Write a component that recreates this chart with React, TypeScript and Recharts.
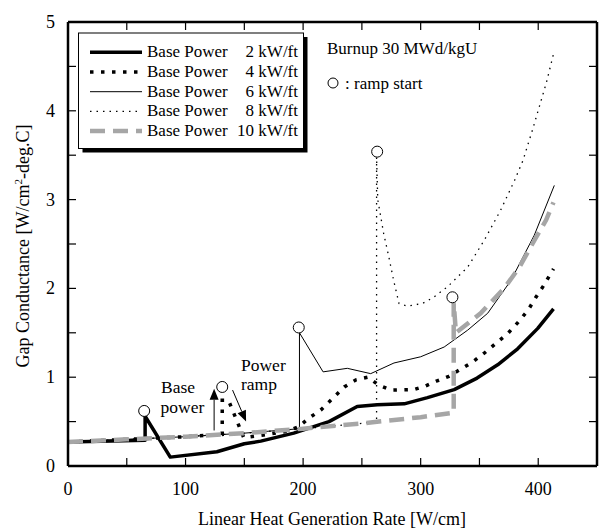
import { ComposedChart, Line, Scatter, XAxis, YAxis, ReferenceLine } from "recharts"

type Pt = { x: number; y: number }

const FONT = '"Liberation Serif", "Times New Roman", serif'

const xTicks = [0, 50, 100, 150, 200, 250, 300, 350, 400, 450]
const yTicks = [0, 0.5, 1, 1.5, 2, 2.5, 3, 3.5, 4, 4.5, 5]

// Base Power 2 kW/ft
const power2: Pt[] = [
  { x: 0, y: 0.27 }, { x: 65.6, y: 0.29 }, { x: 65.6, y: 0.56 }, { x: 87, y: 0.1 },
  { x: 126.7, y: 0.16 }, { x: 150, y: 0.25 }, { x: 164, y: 0.28 }, { x: 192, y: 0.37 },
  { x: 222, y: 0.5 }, { x: 246, y: 0.67 }, { x: 263, y: 0.69 }, { x: 286, y: 0.7 },
  { x: 305.8, y: 0.77 }, { x: 328.5, y: 0.86 }, { x: 348, y: 0.99 }, { x: 365.5, y: 1.14 },
  { x: 382.5, y: 1.32 }, { x: 399.6, y: 1.55 }, { x: 413, y: 1.77 },
]

// Base Power 4 kW/ft
const power4: Pt[] = [
  { x: 0, y: 0.27 }, { x: 50, y: 0.3 }, { x: 100, y: 0.33 }, { x: 131.2, y: 0.355 },
  { x: 131.2, y: 0.74 }, { x: 136.5, y: 0.74 }, { x: 149.5, y: 0.32 }, { x: 166.5, y: 0.35 },
  { x: 186, y: 0.39 }, { x: 196, y: 0.44 }, { x: 205, y: 0.54 }, { x: 215, y: 0.63 },
  { x: 225, y: 0.76 }, { x: 235, y: 0.89 }, { x: 245, y: 0.97 }, { x: 255, y: 1.0 },
  { x: 264.5, y: 0.91 }, { x: 274.5, y: 0.855 }, { x: 294, y: 0.86 }, { x: 304, y: 0.9 },
  { x: 314, y: 0.96 }, { x: 324, y: 1.01 }, { x: 334, y: 1.09 }, { x: 344, y: 1.17 },
  { x: 354, y: 1.27 }, { x: 364, y: 1.38 }, { x: 374, y: 1.49 }, { x: 383, y: 1.62 },
  { x: 391.6, y: 1.76 }, { x: 398, y: 1.9 }, { x: 404, y: 2.02 }, { x: 413, y: 2.22 },
]

// Base Power 6 kW/ft
const power6: Pt[] = [
  { x: 0, y: 0.27 }, { x: 50, y: 0.3 }, { x: 100, y: 0.33 }, { x: 150, y: 0.37 },
  { x: 196.9, y: 0.42 }, { x: 196.9, y: 1.5 }, { x: 217, y: 1.06 }, { x: 237.6, y: 1.1 },
  { x: 257.5, y: 1.04 }, { x: 277.3, y: 1.16 }, { x: 300, y: 1.23 }, { x: 320, y: 1.34 },
  { x: 340, y: 1.53 }, { x: 357, y: 1.72 }, { x: 376.8, y: 2.09 }, { x: 396.7, y: 2.6 },
  { x: 413.7, y: 3.16 },
]

// Base Power 8 kW/ft
const power8: Pt[] = [
  { x: 0, y: 0.27 }, { x: 50, y: 0.3 }, { x: 100, y: 0.33 }, { x: 150, y: 0.37 },
  { x: 200, y: 0.42 }, { x: 250, y: 0.48 }, { x: 262.5, y: 0.5 }, { x: 262.5, y: 3.48 },
  { x: 263.5, y: 3.0 }, { x: 268.5, y: 2.62 }, { x: 273, y: 2.35 }, { x: 277, y: 2.09 },
  { x: 281.6, y: 1.83 }, { x: 288.7, y: 1.8 }, { x: 301.5, y: 1.83 }, { x: 311, y: 1.9 },
  { x: 323, y: 2.02 }, { x: 340, y: 2.24 }, { x: 354, y: 2.54 }, { x: 368, y: 2.88 },
  { x: 380, y: 3.22 }, { x: 387, y: 3.44 }, { x: 395, y: 3.78 }, { x: 407, y: 4.32 },
  { x: 413, y: 4.64 },
]

// Base Power 10 kW/ft
const power10: Pt[] = [
  { x: 0, y: 0.27 }, { x: 50, y: 0.3 }, { x: 100, y: 0.33 }, { x: 150, y: 0.37 },
  { x: 200, y: 0.42 }, { x: 250, y: 0.48 }, { x: 300, y: 0.55 }, { x: 328.1, y: 0.6 },
  { x: 328.1, y: 1.84 }, { x: 330, y: 1.5 }, { x: 351, y: 1.72 }, { x: 371, y: 2.0 },
  { x: 384, y: 2.24 }, { x: 396.7, y: 2.54 }, { x: 406.7, y: 2.77 }, { x: 413, y: 2.97 },
]

// ramp start markers
const rampStarts: Pt[] = [
  { x: 64.8, y: 0.62 }, { x: 131.2, y: 0.89 }, { x: 196.3, y: 1.56 },
  { x: 263, y: 3.54 }, { x: 327, y: 1.9 },
]

const baseArrow: Pt[] = [{ x: 124.3, y: 0.4 }, { x: 124.3, y: 0.87 }]
const rampArrow: Pt[] = [{ x: 140, y: 0.855 }, { x: 151.5, y: 0.5 }]

const series = [
  { name: "Base Power", power: "2 kW/ft", stroke: "#000", width: 3.5, dash: undefined },
  { name: "Base Power", power: "4 kW/ft", stroke: "#000", width: 3.5, dash: "3.5 7.5" },
  { name: "Base Power", power: "6 kW/ft", stroke: "#000", width: 1, dash: undefined },
  { name: "Base Power", power: "8 kW/ft", stroke: "#000", width: 1.3, dash: "1.5 5" },
  { name: "Base Power", power: "10 kW/ft", stroke: "#a6a6a6", width: 4.5, dash: "15 8" },
]

function Arrow(props: any) {
  const { x1, y1, x2, y2 } = props
  const dx = x2 - x1
  const dy = y2 - y1
  const len = Math.hypot(dx, dy) || 1
  const ux = dx / len
  const uy = dy / len
  const headL = 11
  const headW = 4.5
  const bx = x2 - ux * headL
  const by = y2 - uy * headL
  const px = -uy * headW
  const py = ux * headW
  return (
    <g>
      <line x1={x1} y1={y1} x2={bx} y2={by} stroke="#000" strokeWidth={1} />
      <polygon points={`${x2},${y2} ${bx + px},${by + py} ${bx - px},${by - py}`} fill="#000" />
    </g>
  )
}

function RampCircle(props: any) {
  const { cx, cy } = props
  return <circle cx={cx} cy={cy} r={5.5} fill="#fff" stroke="#000" strokeWidth={1} />
}

// all ticks point into the plot; labels only on whole numbers
function XTick(props: any) {
  const { x, y, payload } = props
  const v = payload.value
  return (
    <g>
      <line x1={x} x2={x} y1={y} y2={y - 8} stroke="#000" strokeWidth={1.2} />
      {v % 100 === 0 && (
        <text x={x} y={y + 29} textAnchor="middle" fontSize={18} fontFamily={FONT} fill="#000">
          {v}
        </text>
      )}
    </g>
  )
}

function YTick(props: any) {
  const { x, y, payload } = props
  const v = payload.value
  return (
    <g>
      <line x1={x} x2={x + 8} y1={y} y2={y} stroke="#000" strokeWidth={1.2} />
      {Number.isInteger(v) && (
        <text x={x - 13} y={y + 6} textAnchor="end" fontSize={18} fontFamily={FONT} fill="#000">
          {v}
        </text>
      )}
    </g>
  )
}

function TopTick(props: any) {
  const { x, y } = props
  return <line x1={x} x2={x} y1={y} y2={y + 8} stroke="#000" strokeWidth={1.2} />
}

function RightTick(props: any) {
  const { x, y } = props
  return <line x1={x} x2={x - 8} y1={y} y2={y} stroke="#000" strokeWidth={1.2} />
}

const axisLine = { stroke: "#000", strokeWidth: 2.5 }

export default function App() {
  return (
    <div style={{ position: "absolute", left: 0, top: 0, width: 600, height: 532, background: "#fff" }}>
      <ComposedChart width={600} height={532} margin={{ top: 21, right: 2, left: 0, bottom: 0 }}>
        <XAxis
          type="number"
          dataKey="x"
          domain={[0, 450]}
          ticks={xTicks}
          interval={0}
          allowDataOverflow
          height={66}
          tickSize={0}
          tickMargin={0}
          axisLine={axisLine}
          tickLine={false}
          tick={<XTick />}
        />
        <XAxis
          xAxisId="top"
          orientation="top"
          type="number"
          dataKey="x"
          domain={[0, 450]}
          ticks={xTicks}
          interval={0}
          allowDataOverflow
          height={1}
          tickSize={0}
          tickMargin={0}
          axisLine={axisLine}
          tickLine={false}
          tick={<TopTick />}
        />
        <YAxis
          type="number"
          domain={[0, 5]}
          ticks={yTicks}
          interval={0}
          allowDataOverflow
          width={68}
          tickSize={0}
          tickMargin={0}
          axisLine={axisLine}
          tickLine={false}
          tick={<YTick />}
        />
        <YAxis
          yAxisId="right"
          orientation="right"
          type="number"
          domain={[0, 5]}
          ticks={yTicks}
          interval={0}
          allowDataOverflow
          width={1}
          tickSize={0}
          tickMargin={0}
          axisLine={axisLine}
          tickLine={false}
          tick={<RightTick />}
        />

        <Line data={power6} dataKey="y" type="linear" stroke="#000" strokeWidth={1} dot={false} isAnimationActive={false} />
        <Line data={power8} dataKey="y" type="linear" stroke="#000" strokeWidth={1.3} strokeDasharray="1.5 5" dot={false} isAnimationActive={false} />
        <Line data={power4} dataKey="y" type="linear" stroke="#000" strokeWidth={3.5} strokeDasharray="3.5 7.5" dot={false} isAnimationActive={false} />
        <Line data={power2} dataKey="y" type="linear" stroke="#000" strokeWidth={3.5} strokeLinejoin="round" dot={false} isAnimationActive={false} />
        <Line data={power10} dataKey="y" type="linear" stroke="#a6a6a6" strokeWidth={4.5} strokeDasharray="15 8" dot={false} isAnimationActive={false} />

        <ReferenceLine segment={baseArrow} shape={Arrow} />
        <ReferenceLine segment={rampArrow} shape={Arrow} />

        <Scatter
          data={rampStarts}
          dataKey="y"
          xAxisId="top"
          yAxisId="right"
          shape={RampCircle}
          isAnimationActive={false}
        />
      </ComposedChart>

      <svg
        width={600}
        height={532}
        style={{ position: "absolute", left: 0, top: 0, pointerEvents: "none" }}
        fontFamily={FONT}
      >
        {/* legend */}
        <rect x={82.5} y={37} width={225} height={115.5} fill="#000" />
        <rect x={78.5} y={33} width={225} height={115.5} fill="#fff" stroke="#000" strokeWidth={1} />
        {series.map((s, i) => {
          const cy = 52.3 + i * 19.7
          return (
            <g key={s.power}>
              <line x1={90} x2={142} y1={cy} y2={cy} stroke={s.stroke} strokeWidth={s.width} strokeDasharray={s.dash} />
              <text x={147} y={cy + 5} fontSize={17}>{s.name}</text>
              <text x={298} y={cy + 5} fontSize={17} textAnchor="end">{s.power}</text>
            </g>
          )
        })}

        <text x={327} y={54} fontSize={17}>Burnup 30 MWd/kgU</text>
        <circle cx={333} cy={83} r={5} fill="#fff" stroke="#000" strokeWidth={1} />
        <text x={345} y={89} fontSize={17}>: ramp start</text>

        <text x={161} y={393} fontSize={17.5}>Base</text>
        <text x={160.5} y={413} fontSize={17.5}>power</text>
        <text x={241} y={371} fontSize={17.5}>Power</text>
        <text x={241} y={390} fontSize={17.5}>ramp</text>

        <text x={332} y={525} fontSize={18} textAnchor="middle">Linear Heat Generation Rate [W/cm]</text>
        <text transform="translate(29,246) rotate(-90)" fontSize={18} textAnchor="middle">
          Gap Conductance [W/cm<tspan fontSize={11} dy={-7}>2</tspan><tspan dy={7}>-deg.C]</tspan>
        </text>
      </svg>
    </div>
  )
}
